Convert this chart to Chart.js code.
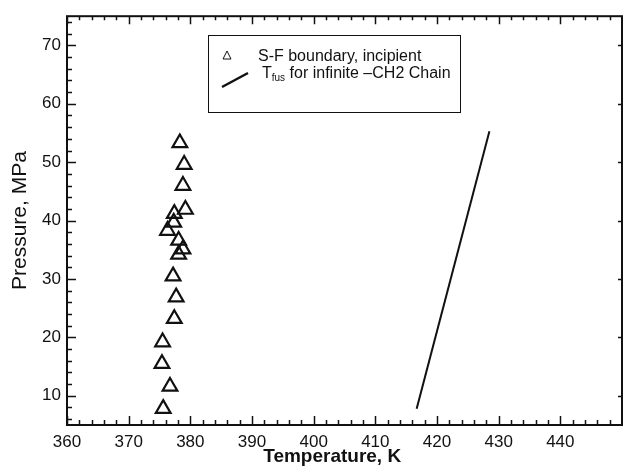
<!DOCTYPE html>
<html>
<head>
<meta charset="utf-8">
<title>Pressure vs Temperature</title>
<script src="https://cdn.jsdelivr.net/npm/chart.js@4/dist/chart.umd.min.js"></script>
<style>
    html, body { margin: 0; padding: 0; background: #fff; }
    #wrap { width: 623px; height: 469px; position: relative; }
</style>
</head>
<body>
<div id="wrap"><canvas id="ptChart"></canvas></div>
<script>
// S-F boundary (incipient) points
const sfTemp = [378.3, 379.0, 378.8, 379.2, 377.4, 377.3, 376.3, 378.1, 378.8, 378.1, 377.2, 377.7, 377.4, 375.5, 375.4, 376.7, 375.6];
const sfPress = [53.3, 49.6, 46.0, 41.9, 41.2, 39.7, 38.3, 36.6, 35.1, 34.2, 30.5, 26.9, 23.2, 19.2, 15.5, 11.6, 7.8];

// Tfus line for infinite -CH2 chain
const fusTemp = [416.7, 428.5];
const fusPress = [7.8, 55.3];

// Axis ticks
const xTickValues = [360, 370, 380, 390, 400, 410, 420, 430, 440];
const yTickValues = [10, 20, 30, 40, 50, 60, 70];

const INK = '#111';
const FONT = '"Liberation Sans", Arial, sans-serif';

function toPoints(xs, ys) {
    return xs.map((x, i) => ({ x: x, y: ys[i] }));
}

/**
 * Frame, inward ticks, x title and the legend box
 */
const framePlugin = {
    id: 'frame',
    afterDraw(chart) {
        const ctx = chart.ctx;
        const a = chart.chartArea;
        const xs = chart.scales.x;
        const ys = chart.scales.y;

        ctx.save();
        ctx.strokeStyle = INK;
        ctx.lineWidth = 2;
        ctx.strokeRect(a.left, a.top, a.right - a.left, a.bottom - a.top);

        // x ticks, every 2 K, majors every 10 K
        ctx.lineWidth = 1.5;
        for (let v = 360; v <= 450; v += 2) {
            const px = Math.round(xs.getPixelForValue(v)) + 0.5;
            const major = v % 10 === 0;
            ctx.beginPath();
            ctx.moveTo(px, a.bottom);
            ctx.lineTo(px, a.bottom - (major ? 9 : 5));
            ctx.moveTo(px, a.top);
            ctx.lineTo(px, a.top + (major ? 8 : 4));
            ctx.stroke();
        }

        // y ticks, every 2 MPa, majors every 10 MPa
        for (let v = 6; v <= 74; v += 2) {
            const py = Math.round(ys.getPixelForValue(v)) + 0.5;
            const major = v % 10 === 0;
            ctx.beginPath();
            ctx.moveTo(a.left, py);
            ctx.lineTo(a.left + (major ? 9 : 5), py);
            if (major) {
                ctx.moveTo(a.right, py);
                ctx.lineTo(a.right - 4, py);
            }
            ctx.stroke();
        }

        // x axis title
        ctx.fillStyle = INK;
        ctx.textAlign = 'center';
        ctx.textBaseline = 'middle';
        ctx.font = 'bold 19px ' + FONT;
        ctx.fillText('Temperature, K', xs.getPixelForValue(403), 457);

        // legend
        const lx = 208, ly = 35, lw = 252, lh = 77;
        ctx.fillStyle = '#fff';
        ctx.fillRect(lx, ly, lw, lh);
        ctx.lineWidth = 1;
        ctx.strokeRect(lx + 0.5, ly + 0.5, lw, lh);

        // small triangle symbol
        ctx.lineWidth = 1;
        ctx.beginPath();
        ctx.moveTo(227, 51);
        ctx.lineTo(231, 59);
        ctx.lineTo(223, 59);
        ctx.closePath();
        ctx.stroke();

        // line symbol
        ctx.lineWidth = 2.5;
        ctx.beginPath();
        ctx.moveTo(222, 87);
        ctx.lineTo(248, 73);
        ctx.stroke();

        ctx.fillStyle = INK;
        ctx.textBaseline = 'alphabetic';
        ctx.textAlign = 'left';
        ctx.font = '16px ' + FONT;
        ctx.fillText('S-F boundary, incipient', 258, 61);

        let tx = 262;
        ctx.fillText('T', tx, 78);
        tx += ctx.measureText('T').width;
        ctx.font = '10px ' + FONT;
        ctx.fillText('fus', tx, 81);
        tx += ctx.measureText('fus').width;
        ctx.font = '16px ' + FONT;
        ctx.fillText(' for infinite \u2013CH2 Chain', tx, 78);

        ctx.restore();
    }
};

new Chart(document.getElementById('ptChart'), {
    type: 'scatter',
    data: {
        datasets: [
            {
                label: 'S-F boundary, incipient',
                data: toPoints(sfTemp, sfPress),
                pointStyle: 'triangle',
                pointRadius: 8.5,
                pointBorderWidth: 2.2,
                borderColor: INK,
                backgroundColor: 'rgba(0,0,0,0)',
                showLine: false
            },
            {
                label: 'Tfus for infinite -CH2 Chain',
                data: toPoints(fusTemp, fusPress),
                showLine: true,
                borderColor: INK,
                borderWidth: 2,
                pointRadius: 0
            }
        ]
    },
    options: {
        responsive: true,
        maintainAspectRatio: false,
        animation: false,
        layout: {
            autoPadding: false,
            padding: { top: 14, right: 1, left: 8, bottom: 0 }
        },
        plugins: {
            legend: { display: false },
            tooltip: { enabled: false }
        },
        scales: {
            x: {
                type: 'linear',
                min: 360,
                max: 450,
                afterFit: function (scale) { scale.height = 44; },
                afterBuildTicks: function (scale) {
                    scale.ticks = xTickValues.map(v => ({ value: v }));
                },
                grid: { display: false, drawTicks: false },
                border: { display: false },
                ticks: {
                    color: INK,
                    padding: 7,
                    maxRotation: 0,
                    autoSkip: false,
                    font: { family: FONT, size: 17 }
                },
                title: { display: false }
            },
            y: {
                type: 'linear',
                min: 5,
                max: 75,
                afterFit: function (scale) { scale.width = 59; },
                afterBuildTicks: function (scale) {
                    scale.ticks = yTickValues.map(v => ({ value: v }));
                },
                grid: { display: false, drawTicks: false },
                border: { display: false },
                ticks: {
                    color: INK,
                    padding: 6,
                    autoSkip: false,
                    font: { family: FONT, size: 17 }
                },
                title: {
                    display: true,
                    text: 'Pressure, MPa',
                    color: INK,
                    padding: { top: 0, bottom: 0 },
                    font: { family: FONT, size: 21 }
                }
            }
        }
    },
    plugins: [framePlugin]
});
</script>
</body>
</html>
